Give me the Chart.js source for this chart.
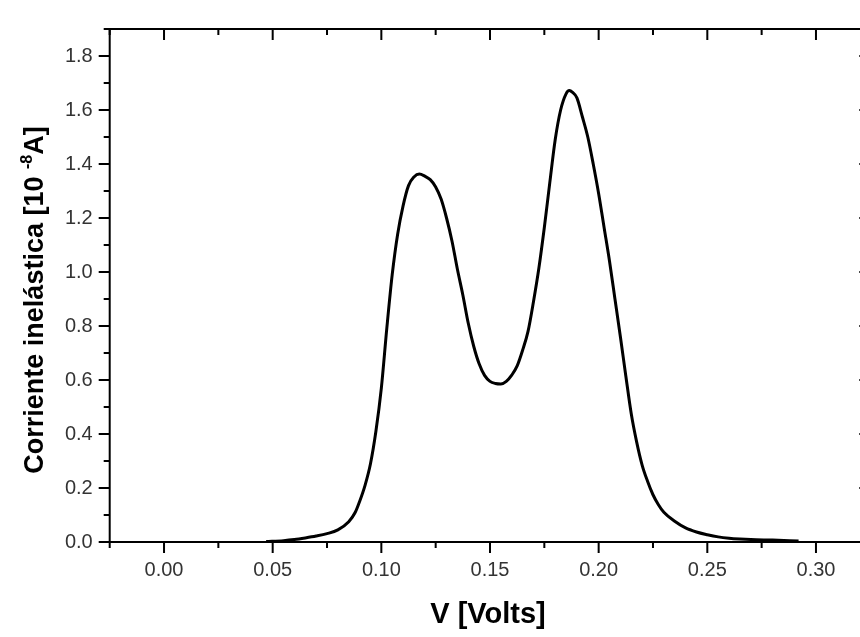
<!DOCTYPE html>
<html>
<head>
<meta charset="utf-8">
<script src="https://cdn.jsdelivr.net/npm/chart.js@4/dist/chart.umd.min.js"></script>
<style>
  html, body { margin: 0; padding: 0; background: #fff; overflow: hidden; }
  #wrap { width: 871px; height: 637px; }
</style>
</head>
<body>
<div id="wrap"><canvas id="curve-chart" width="871" height="637"></canvas></div>
<script>
;(function(){
  // curve: V [Volts] / current [1e-8 A]
  const voltage = [
    0.047, 0.055, 0.060, 0.065, 0.070, 0.075, 0.080, 0.085, 0.088, 0.090,
    0.0925, 0.095, 0.0975, 0.100, 0.1025, 0.105, 0.1075, 0.110, 0.1125, 0.115,
    0.1175, 0.120, 0.1225, 0.125, 0.1275, 0.130, 0.1325, 0.135, 0.1375, 0.140,
    0.1425, 0.145, 0.1475, 0.150, 0.1525, 0.155, 0.1575, 0.160, 0.1625, 0.165,
    0.1675, 0.170, 0.1725, 0.175, 0.1775, 0.180, 0.1825, 0.185, 0.1865, 0.188,
    0.190, 0.1925, 0.195, 0.1975, 0.200, 0.2025, 0.205, 0.2075, 0.210, 0.2125,
    0.215, 0.2175, 0.220, 0.2225, 0.225, 0.2275, 0.230, 0.235, 0.240, 0.245,
    0.250, 0.255, 0.260, 0.265, 0.270, 0.280, 0.292
  ]
  const current = [
    0.002, 0.005, 0.009, 0.015, 0.022, 0.031, 0.045, 0.075, 0.11, 0.15,
    0.21, 0.29, 0.41, 0.57, 0.79, 0.99, 1.14, 1.245, 1.32, 1.352,
    1.363, 1.355, 1.342, 1.315, 1.27, 1.20, 1.115, 1.01, 0.915, 0.81,
    0.725, 0.66, 0.617, 0.595, 0.587, 0.585, 0.595, 0.618, 0.652, 0.71,
    0.78, 0.89, 1.015, 1.165, 1.33, 1.49, 1.60, 1.66, 1.672, 1.665,
    1.645, 1.575, 1.50, 1.40, 1.29, 1.165, 1.04, 0.90, 0.76, 0.615,
    0.475, 0.37, 0.285, 0.225, 0.175, 0.138, 0.11, 0.077, 0.052, 0.037,
    0.027, 0.019, 0.014, 0.011, 0.009, 0.007, 0.004
  ]

  const xTicks = [0.00, 0.05, 0.10, 0.15, 0.20, 0.25, 0.30]
  const xMinorTicks = [-0.025, 0.025, 0.075, 0.125, 0.175, 0.225, 0.275, 0.325]
  const yTicks = [0.0, 0.2, 0.4, 0.6, 0.8, 1.0, 1.2, 1.4, 1.6, 1.8]
  const yMinorTicks = [0.1, 0.3, 0.5, 0.7, 0.9, 1.1, 1.3, 1.5, 1.7, 1.9]

  const FONT = "'Liberation Sans', Arial, Helvetica, sans-serif"

  // frame, ticks on all four sides, and the axis titles
  const framePlugin = {
    id: 'frame',
    afterDraw(chart) {
      const { ctx, chartArea: a, scales: { x, y } } = chart
      ctx.save()
      ctx.strokeStyle = '#000'
      ctx.lineWidth = 2
      ctx.beginPath()
      const tick = (vals, len) => {
        vals.forEach(v => {
          const px = x.getPixelForValue(v)
          ctx.moveTo(px, a.bottom); ctx.lineTo(px, a.bottom + len)
          ctx.moveTo(px, a.top); ctx.lineTo(px, a.top + len)
        })
      }
      const ytick = (vals, len) => {
        vals.forEach(v => {
          const py = y.getPixelForValue(v)
          ctx.moveTo(a.left, py); ctx.lineTo(a.left - len, py)
          ctx.moveTo(a.right, py); ctx.lineTo(a.right - len, py)
        })
      }
      tick(xTicks, 11); tick(xMinorTicks, 6)
      ytick(yTicks, 11); ytick(yMinorTicks, 6)
      ctx.stroke()
      ctx.strokeRect(a.left, a.top, a.right - a.left, a.bottom - a.top)

      ctx.fillStyle = '#000'
      // x title
      ctx.font = 'bold 29px ' + FONT
      ctx.textAlign = 'center'
      ctx.textBaseline = 'alphabetic'
      ctx.fillText('V [Volts]', 488, 623)

      // y title with superscript
      const big = 'bold 27px ' + FONT, small = 'bold 16px ' + FONT
      const parts = [['Corriente inelástica [10 ', big, 0], ['-8', small, -11], ['A]', big, 0]]
      let w = 0
      parts.forEach(p => { ctx.font = p[1]; w += ctx.measureText(p[0]).width })
      ctx.translate(43, 300)
      ctx.rotate(-Math.PI / 2)
      ctx.textAlign = 'left'
      let cx = -w / 2
      parts.forEach(p => {
        ctx.font = p[1]
        ctx.fillText(p[0], cx, p[2])
        cx += ctx.measureText(p[0]).width
      })
      ctx.restore()
    }
  }

  const config = {
    type: 'line',
    data: {
      datasets: [{
        data: voltage.map((v, i) => ({ x: v, y: current[i] })),
        borderColor: '#000',
        borderWidth: 3,
        pointRadius: 0,
        fill: false,
        cubicInterpolationMode: 'monotone',
      }],
    },
    options: {
      responsive: false,
      animation: false,
      devicePixelRatio: 1,
      layout: { padding: { top: 13.2, right: 0.7, left: 0, bottom: 0 } },
      plugins: { legend: { display: false }, tooltip: { enabled: false } },
      scales: {
        x: {
          type: 'linear',
          min: -0.025,
          max: 0.325,
          grid: { display: false, drawTicks: false },
          border: { display: false },
          afterBuildTicks: s => { s.ticks = xTicks.map(v => ({ value: v })) },
          afterFit: s => { s.height = 95 },
          ticks: {
            padding: 16,
            color: '#333',
            font: { family: FONT, size: 20 },
            maxRotation: 0,
            callback: v => v.toFixed(2),
          },
        },
        y: {
          type: 'linear',
          min: 0,
          max: 1.9,
          grid: { display: false, drawTicks: false },
          border: { display: false },
          afterBuildTicks: s => { s.ticks = yTicks.map(v => ({ value: v })) },
          afterFit: s => { s.width = 109.7 },
          ticks: {
            padding: 17,
            color: '#333',
            font: { family: FONT, size: 20 },
            callback: v => v.toFixed(1),
          },
        },
      },
    },
    plugins: [framePlugin],
  }

  const ctx = document.getElementById('curve-chart')
  let chart = new Chart(ctx, config)
})()
</script>
</body>
</html>
